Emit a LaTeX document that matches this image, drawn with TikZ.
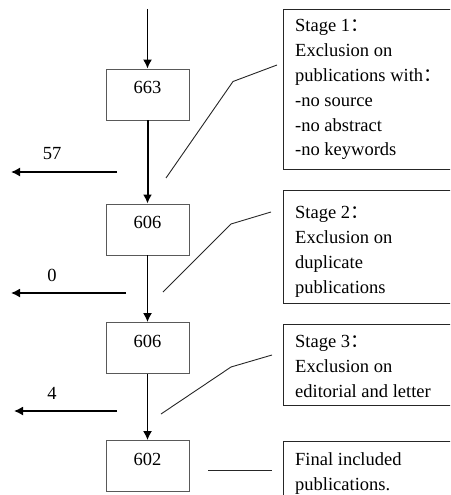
\documentclass[tikz,border=0pt]{standalone}
\usepackage{fontspec}
\setmainfont{Liberation Serif}
\newfontfamily\cjk{Noto Sans CJK SC}
\usetikzlibrary{arrows.meta,calc}
\newcommand{\fwcolon}{{\cjk ：}}

\begin{document}
\begin{tikzpicture}[x=1pt,y=-1pt,
	font=\fontsize{18.5}{24.8}\selectfont,
	countbox/.style={draw=black!65, line width=0.9pt, minimum width=83pt, minimum height=51pt,
		text height=12.5pt, text depth=14.5pt, inner sep=0pt},
	stagebox/.style={draw=black!85, line width=1.1pt, minimum width=190pt, anchor=north west, inner sep=0pt},
	stagetext/.style={anchor=north west, inner sep=0pt, align=left},
	flow/.style={line width=1.5pt, -{Latex[length=9pt,width=9pt]}},
	callout/.style={line width=0.9pt, black!85}]
				\useasboundingbox (0,0) rectangle (450,495);
				\clip (0,0) rectangle (450,495);
				
				% counts down the middle
				\node[countbox] (n663) at (147.5,94.5) {663};
				\node[countbox] (n606a) at (147.5,229.5) {606};
				\node[countbox] (n606b) at (147.5,348) {606};
				\node[countbox] (n602) at (147.5,466) {602};
				
				\coordinate (start) at (147.5,9);
				\draw[flow] (start) -- (n663.north);
				\draw[flow, line width=2pt] (n663) -- (n606a);
				\draw[flow] (n606a) -- (n606b);
				\draw[flow] (n606b) -- (n602);
				
				% excluded
				\foreach \n/\xs/\xe/\y in {57/117/11/172, 0/126/11/293, 4/117/14/411}{
					\coordinate (s\n) at (\xs,\y);
					\coordinate (e\n) at (\xe,\y);
					\draw[flow] (s\n) -- (e\n);
					\node (lab\n) at (52,\y-18) {\n};}
				
				% stages
				\node[stagebox, minimum height=160pt] (st1) at (283,9) {};
				\node[stagebox, minimum height=113pt] (st2) at (283,190) {};
				\node[stagebox, minimum height=81pt] (st3) at (283,324) {};
				\node[stagebox, minimum height=90pt] (st4) at (283,441) {};
				
				\node[stagetext] (t1) at (295,19.4) {Stage 1\fwcolon\\Exclusion on\\publications with\fwcolon\\-no source\\-no abstract\\-no keywords};
				\node[stagetext] (t2) at (295,206.4) {Stage 2\fwcolon\\Exclusion on\\duplicate\\publications};
				\node[stagetext] (t3) at (295,335.4) {Stage 3\fwcolon\\Exclusion on\\editorial and letter};
				\node[stagetext] (t4) at (295,452.4) {Final included\\publications.};
				
				\draw[callout] (166,178) -- (233,81.5) -- (277,65);
				\draw[callout] (163,292) -- (231,224) -- (271,212);
				\draw[callout] (161,414) -- (231,367) -- (272,355);
				\draw[callout] (208,470) -- (272,470);
			\end{tikzpicture}
\end{document}
